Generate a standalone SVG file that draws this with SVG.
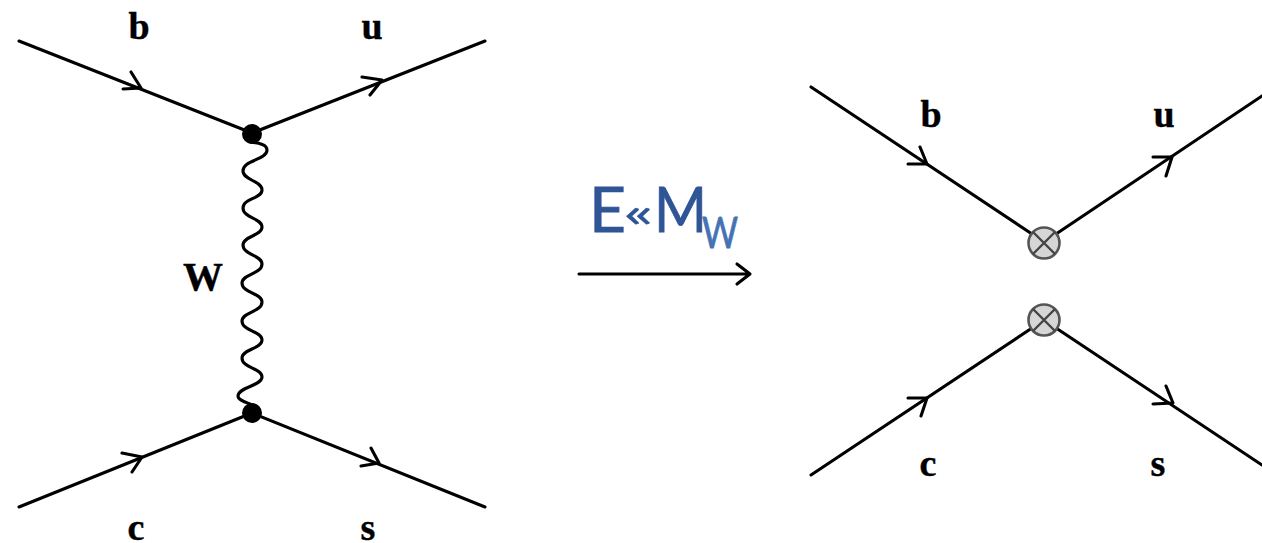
<svg xmlns="http://www.w3.org/2000/svg" width="1262" height="543" viewBox="0 0 1262 543">
<style>
.l{fill:none;stroke:#000;stroke-width:3.1;stroke-linecap:round;stroke-linejoin:round}
.w{fill:none;stroke:#000;stroke-width:3.1;stroke-linecap:round}
.t{font-family:"Liberation Serif","Times New Roman",serif;font-weight:bold;font-size:38px;fill:#000;text-anchor:middle;stroke:#000;stroke-width:.4}
.b{font-family:Lato,"Open Sans",sans-serif;fill:#2f5597;stroke:#2f5597;stroke-width:.8}
.x{fill:#d6d6d6;stroke:#555;stroke-width:2.6}
.y{fill:none;stroke:#444;stroke-width:2.4}
</style>
<rect width="1262" height="543" fill="#fff"/>
<g id="connectors">
<path class="l" d="M19 41L252 133M252 133L485 41M19 507L252 413M252 413L485 507"/>
<path class="l" d="M811 87L1032 234M1056 234L1262 96M811 475L1032 328M1056 328L1262 465"/>
<path class="l" d="M131 72L141 88L123 89M362 77L382 80L370 95M122 453L142 457L132 472M371 448L379 463L361 466"/>
<path class="l" d="M920 147L927 164L908 164M1153 157L1172 157L1166 176M908 398L927 398L921 416M1153 404L1173 403L1166 386"/>
<path class="w" d="M250 142C258 143 267 144 267 150C267 160 243 160 243 171C243 180 262 181 262 190C262 199 243 198 243 208C243 218 262 218 262 227C262 236 243 236 243 245C243 255 262 255 262 264C262 274 242 274 242 283C242 293 262 293 262 302C262 312 242 312 242 321C242 331 262 331 262 340C262 349 242 349 242 358C242 368 262 368 262 377C262 386 238 387 238 396C238 400 245 402 250 404"/>
<path class="l" d="M579 274H749M737 264L750 274L737 284"/>
</g>
<g id="vertex-top"><circle cx="252" cy="134" r="10"/></g>
<g id="vertex-bottom"><circle cx="252" cy="413" r="10"/></g>
<g id="contact-top"><circle class="x" cx="1044" cy="243" r="15.5"/><path class="y" d="M1033 232L1055 254M1055 232L1033 254"/></g>
<g id="contact-bottom"><circle class="x" cx="1044" cy="320" r="15.5"/><path class="y" d="M1033 309L1055 331M1055 309L1033 331"/></g>
<g id="labels-left">
<text class="t" x="139" y="39">b</text>
<text class="t" x="372" y="39">u</text>
<text class="t" x="203" y="290" style="font-size:40px">W</text>
<text class="t" x="136" y="540">c</text>
<text class="t" x="368" y="540">s</text>
</g>
<g id="labels-right">
<text class="t" x="931" y="127">b</text>
<text class="t" x="1164" y="127">u</text>
<text class="t" x="928" y="476">c</text>
<text class="t" x="1158" y="476">s</text>
</g>
<g id="energy-label">
<text class="b" x="589" y="232" font-size="62" textLength="37" lengthAdjust="spacingAndGlyphs">E</text>
<text class="b" x="623" y="227" font-size="40" textLength="31" lengthAdjust="spacingAndGlyphs" style="stroke-width:.3">«</text>
<text class="b" x="654" y="232" font-size="62" textLength="53" lengthAdjust="spacingAndGlyphs">M</text>
<text class="b" x="702" y="248" font-size="43" textLength="36" lengthAdjust="spacingAndGlyphs" style="fill:#4472b4;stroke:#4472b4">W</text>
</g>
</svg>
